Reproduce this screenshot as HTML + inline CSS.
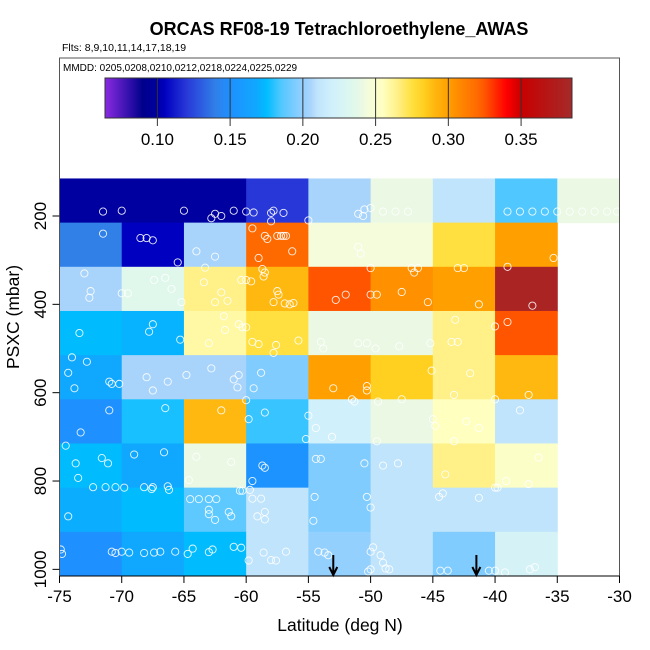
<!DOCTYPE html>
<html><head><meta charset="utf-8"><style>
html,body{margin:0;padding:0;background:#fff;}
svg{display:block;font-family:"Liberation Sans",Arial,sans-serif;}
</style></head><body>
<svg id="chart" width="650" height="650" viewBox="0 0 650 650">
<text x="339" y="35" text-anchor="middle" font-size="18" font-weight="bold">ORCAS RF08-19 Tetrachloroethylene_AWAS</text>
<text x="62" y="51" font-size="10.5">Flts: 8,9,10,11,14,17,18,19</text>
<g id="cells"></g>
<g id="pts"></g>
<g id="arrows"></g>
<rect x="59.5" y="58" width="560" height="518" fill="none" stroke="#555" stroke-width="1"/>
<text x="63" y="71" font-size="10">MMDD: 0205,0208,0210,0212,0218,0224,0225,0229</text>
<defs><linearGradient id="cbg" x1="0" x2="1" y1="0" y2="0"></linearGradient></defs>
<rect x="105" y="78" width="467" height="40" fill="url(#cbg)" stroke="#333"/>
<g id="cbticks"></g>
<g id="axes"></g>
<text x="340" y="631" text-anchor="middle" font-size="17.5">Latitude (deg N)</text>
<text transform="translate(19,317) rotate(-90)" text-anchor="middle" font-size="17.5">PSXC (mbar)</text>
</svg>
<script>
const latBins = [-75,-70,-65,-60,-55,-50,-45,-40,-35];
const presBins = [115,215,315,415,515,615,715,815,915];
const cellValues = [
 [0.10,0.10,0.10,0.12,0.205,0.24,0.21,0.185,0.24],
 [0.14,0.105,0.205,0.32,0.245,0.245,0.275,0.30,null],
 [0.205,0.235,0.265,0.29,0.325,0.305,0.30,0.38,null],
 [0.175,0.172,0.26,0.275,0.24,0.24,0.265,0.325,null],
 [0.168,0.205,0.205,0.195,0.30,0.283,0.265,0.29,null],
 [0.15,0.178,0.29,0.182,0.22,0.24,0.255,0.21,null],
 [0.175,0.168,0.24,0.152,0.195,0.21,0.265,0.252,null],
 [0.17,0.175,0.188,0.21,0.195,0.21,0.21,0.21,null],
 [0.15,0.168,0.175,0.21,0.20,0.21,0.195,0.225,null]
];
const cbTicks = [0.10,0.15,0.20,0.25,0.30,0.35];
const xTicks = [-75,-70,-65,-60,-55,-50,-45,-40,-35,-30];
const yTicks = [200,400,600,800,1000];
const arrowLats = [-53,-41.5];
const ptLat = [-71.5,-70,-65,-62.5,-62,-62.8,-61,-60,-59.4,-58,-57.8,-57,-58,-55,-51,-50.5,-50,-49,-48,-47,-39,-38,-37,-36,-35,-34,-33,-32,-31,-30.2,-50.6,
-71.5,-68.5,-68,-67.5,-65.5,-64,-62.5,-59.5,-58.5,-58.3,-57.5,-57.2,-57,-56.8,-56.3,-59,-51,-50.8,-35.3,
-73,-72.5,-72.6,-70,-69.5,-67.4,-66.5,-66,-63.3,-65.2,-63.4,-62.5,-62,-61.5,-60.4,-60,-59.6,-58.5,-58.7,-58.6,-57.5,-57.4,-57.8,-56.9,-56.5,-56.2,-52.8,-52,-50,-50,-49.5,-47.5,-46.7,-46.5,-46.2,-45.4,-43,-42.5,-41.3,-39,-37,
-73.4,-67.5,-67.8,-63,-65.3,-61.8,-61.7,-60.6,-60.3,-60,-59.5,-59,-57.6,-57.8,-55.8,-54,-53.8,-51,-50.3,-49.6,-47.7,-45.2,-43.2,-43.5,-43,-40,-39,
-74,-72.8,-74.3,-73.8,-71,-70.8,-70.2,-68,-67.5,-66.3,-64.8,-62.8,-61,-60.6,-58.8,-60.7,-59.4,-53,-50.3,-50.3,-51.5,-51.3,-49.4,-47.5,-45.1,-43.3,-42,-37.3,-38,
-71,-74.5,-73.3,-66.5,-62,-59.8,-60,-58.5,-55,-54.4,-53.1,-45,-44.8,-42.3,-41.3,-43.3,-40,-49.5,
-73.7,-73.5,-71.6,-71.1,-69,-66.6,-64,-66.3,-64.6,-61.2,-59.5,-58.7,-58.5,-55.2,-54.4,-54,-50.5,-49,-47.8,-44,-36.5,-37.3,
-74.3,-72.3,-71.3,-70.5,-69.8,-68.2,-67.5,-67.6,-66.2,-64.5,-63.8,-63,-62.4,-63,-63,-62.5,-61.4,-61.2,-60.5,-60.3,-59.7,-59.5,-58.8,-58.5,-59.1,-58.5,-54.5,-54.6,-50.3,-50,-44.5,-44.2,-41.3,-40,-39.8,-39.1,
-74.9,-74.8,-70.8,-70.5,-70,-69.4,-68.2,-67.4,-66.9,-65.7,-64.7,-64.3,-63,-62.7,-61,-60.4,-59.8,-58.6,-58,-57.6,-56.8,-54.2,-53.7,-53.4,-50,-49.8,-49.2,-49,-48.8,-48.5,-50,-50.2,-44.4,-43.8,-40.5,-40,-39.2,-37.2,-36.8];
const ptPres = [190,188,188,195,200,205,188,190,192,193,188,193,212,210,195,185,182,190,190,190,190,190,190,190,190,190,190,190,190,190,200,
240,250,250,255,305,280,292,228,245,252,245,245,245,245,280,295,270,285,295,
330,370,385,375,375,345,340,365,317,395,350,395,373,392,345,345,348,328,320,337,370,378,395,398,400,397,390,378,318,378,378,372,318,328,318,395,318,318,400,315,403,
465,445,462,488,480,427,458,445,452,452,485,490,492,510,482,485,500,488,488,500,495,488,435,485,485,450,440,
520,530,555,590,575,580,580,565,595,575,560,545,570,560,555,588,590,590,585,595,615,620,620,615,550,605,556,605,640,
640,720,690,635,640,660,617,645,652,680,700,660,675,665,680,710,615,710,
760,793,748,760,740,735,745,812,798,757,800,765,770,705,750,750,760,765,760,785,747,807,
880,814,814,814,815,814,814,818,820,841,841,841,841,865,875,888,870,880,822,822,820,840,840,870,880,887,836,890,836,860,836,828,838,815,815,800,
955,965,960,963,960,962,963,962,960,960,965,953,961,955,949,951,980,962,979,980,960,960,962,968,960,950,968,985,998,1000,1000,1005,1003,1003,1003,1003,1007,1000,995];

const NS='http://www.w3.org/2000/svg';
const X = lat => 59.5 + (lat + 75) * 560 / 45;
const Y = p => 216 + (p - 200) * 0.4417;
const CB = v => 105 + (v - 0.064) * 467 / (0.385 - 0.064);
const stops = [[0.064,'#8a2be2'],[0.09,'#00008b'],[0.10,'#0000a0'],[0.105,'#0000c0'],[0.12,'#2838d8'],[0.14,'#3080e8'],[0.15,'#1e90ff'],[0.168,'#10a8ff'],[0.175,'#00bcff'],[0.185,'#50c8ff'],[0.195,'#80ccff'],[0.205,'#a8d4fc'],[0.21,'#c0e4fc'],[0.22,'#d0f0fc'],[0.235,'#e0f8ec'],[0.24,'#eaf8e4'],[0.245,'#f4fcdc'],[0.255,'#ffffc0'],[0.265,'#fff088'],[0.275,'#ffe040'],[0.283,'#ffd020'],[0.29,'#ffb810'],[0.30,'#ffa000'],[0.305,'#ff9000'],[0.32,'#ff6a00'],[0.325,'#ff5500'],[0.34,'#ff0000'],[0.35,'#c80000'],[0.385,'#a52a2a']];
function hex(h){return [1,3,5].map(i=>parseInt(h.substr(i,2),16));}
function cmap(v){
  if(v<=stops[0][0]) return stops[0][1];
  for(let i=1;i<stops.length;i++){ if(v<=stops[i][0]){
    const a=hex(stops[i-1][1]),b=hex(stops[i][1]),t=(v-stops[i-1][0])/(stops[i][0]-stops[i-1][0]);
    return 'rgb('+a.map((c,k)=>Math.round(c+(b[k]-c)*t)).join(',')+')';}}
  return stops[stops.length-1][1];
}
function mk(tag,attrs,parent){const e=document.createElementNS(NS,tag);for(const k in attrs)e.setAttribute(k,attrs[k]);parent.appendChild(e);return e;}
const g=document.getElementById('cbg');
stops.forEach(s=>{mk('stop',{offset:((s[0]-0.064)/(0.385-0.064)*100)+'%','stop-color':s[1]},g);});
const cg=document.getElementById('cells');
cellValues.forEach((row,ri)=>row.forEach((v,ci)=>{
  if(v===null) return;
  const p0=presBins[ri], p1=Math.min(p0+100,1015);
  const r=mk('rect',{x:X(latBins[ci]),y:Y(p0),width:X(latBins[ci]+5)-X(latBins[ci])+0.5,height:Y(p1)-Y(p0)+0.5,fill:cmap(v)},cg);
  
  
}));
const pg=document.getElementById('pts');
ptLat.forEach((la,i)=>{
  const c=mk('circle',{cx:X(la),cy:Y(ptPres[i]),r:3.6,fill:'none',stroke:'#fff','stroke-width':0.9,opacity:0.9},pg);
  
  
});
const ag=document.getElementById('arrows');
arrowLats.forEach(la=>{
  const x=X(la);
  const a=mk('path',{d:`M${x} 555 L${x} 575 M${x-4} 567 L${x} 575 L${x+4} 567`,stroke:'#000','stroke-width':2,fill:'none'},ag);
  
  
});
const cbt=document.getElementById('cbticks');
cbTicks.forEach(v=>{
  const x=CB(v);
  const l=mk('line',{x1:x,x2:x,y1:78,y2:126,stroke:'#333','stroke-width':1},cbt);
  
  
  const t=mk('text',{x:x,y:145,'text-anchor':'middle','font-size':17},cbt);
  t.textContent=v.toFixed(2);
  
  
});
const ax=document.getElementById('axes');
mk('line',{x1:59.5,x2:619.5,y1:576,y2:576,stroke:'#000'},ax);
xTicks.forEach(v=>{
  const x=X(v);
  mk('line',{x1:x,x2:x,y1:576,y2:583,stroke:'#000'},ax);
  const t=mk('text',{x:x,y:602,'text-anchor':'middle','font-size':17},ax);
  t.textContent=v;
  
  
});
yTicks.forEach(v=>{
  const y=Y(v);
  mk('line',{x1:52.5,x2:59.5,y1:y,y2:y,stroke:'#000'},ax);
  const t=mk('text',{transform:`translate(46,${y}) rotate(-90)`,'text-anchor':'middle','font-size':17},ax);
  t.textContent=v;
  
  
});
</script>
</body></html>
